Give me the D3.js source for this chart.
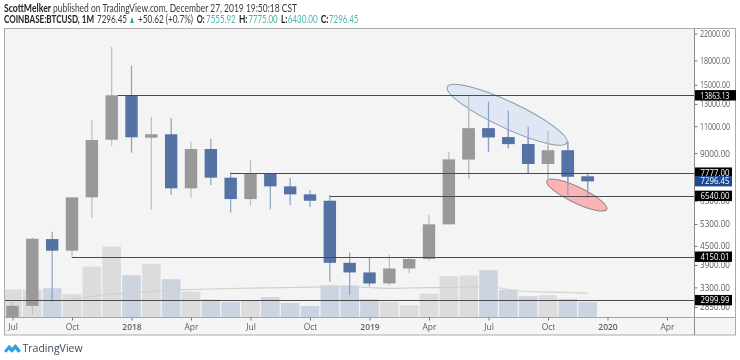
<!DOCTYPE html>
<html><head><meta charset="utf-8">
<script src="https://cdn.jsdelivr.net/npm/d3@7/dist/d3.min.js"></script>
<style>html,body{margin:0;padding:0;background:#fff}svg{display:block;filter:blur(0.35px)}text{font-family:"Open Sans",sans-serif}</style>
</head><body><svg id="c" width="740" height="360"></svg>
<script>
const months = ["Jul","Aug","Sep","Oct","Nov","Dec","Jan","Feb","Mar","Apr","May","Jun","Jul","Aug","Sep","Oct","Nov","Dec","Jan","Feb","Mar","Apr","May","Jun","Jul","Aug","Sep","Oct","Nov","Dec"];
const open  = [2492,2875,4735,4340,6468,9947,13863,10100,10360,6917,9280,7490,6385,7740,7020,6615,6305,3965,3690,3398,3800,4080,5285,8590,10830,10130,9630,8300,9180,7555.92];
const high  = [2965,4800,5000,6470,11520,19891,17290,11800,11700,9800,10000,7800,8550,7740,7470,6830,6580,4285,4130,4200,4135,5667,9090,13863,13210,12350,10970,10620,9800,7775];
const low   = [2400,2700,2965,4115,5550,9510,9025,5895,6580,6450,7090,5770,6075,5915,6110,6020,3440,3120,3330,3340,3672,4040,5290,7430,9070,9340,7740,7300,6580,6430];
const close = [2875,4745,4340,6465,9925,13863,10130,10360,6917,9280,7490,6385,7740,7020,6615,6305,3965,3690,3398,3800,4080,5285,8590,10830,10130,9630,8300,9180,7555.92,7296.45];
const volume = [280,280,293,233,510,710,423,536,383,260,180,156,166,203,146,116,323,320,183,156,123,240,413,420,473,276,213,223,186,156];
const volumeMA = [null,null,null,185,210,235,245,260,275,280,285,290,294,297,300,304,305,305,300,292,295,298,300,305,308,280,260,255,250,242];
const yTicks = [22000,18000,15000,13000,11000,9000,5300,4500,3900,3300,2850,6300];
const priceLabels = [[13863.13,"#000"],[7777,"#000"],[7296.45,"#1f4a93"],[6540,"#000"],[4150.01,"#000"],[2999.99,"#000"]];
const levels = [[5,13863.13],[11,7777],[16,6540],[3,4150.01],[-1,2999.99]];
const xTickIdx = [0,3,6,9,12,15,18,21,24,27,30,33];
const xTickLabels = ["Jul","Oct","2018","Apr","Jul","Oct","2019","Apr","Jul","Oct","2020","Apr"];
const boldLabels = ["2018","2019","2020"];
// ellipses: end points of the long axis as [month index, price], plus minor/major ratio
const ellipses = [
  {a:[21.93,14780],b:[27.95,9727],r:0.2,fill:"#dfe7f4",stroke:"#8f99a8"},
  {a:[26.94,7323],b:[29.96,5915],r:0.24,fill:"#f9b4b6",stroke:"#a07f84"}
];
// header fragments: text, x, width, bold?, colour
const headerLine1 = [["ScottMelker",4,47,1,"#222"],["published on TradingView.com, December 27, 2019 19:50:18 CST",53,244,0,"#3a3a3a"]];
const headerLine2 = [["COINBASE:BTCUSD, 1M",4,90,1,"#222"],["7296.45",97,30,0,"#3a3a3a"],["▲",129,6,0,"#26a69a"],["+50.62 (+0.7%)",138,55,0,"#3a3a3a"],
  ["O:",196.7,8,1,"#222"],["7555.92",206,29.7,0,"#4db6ac"],["H:",239,8.5,1,"#222"],["7775.00",248.3,29.4,0,"#4db6ac"],["L:",281,6.2,1,"#222"],["6430.00",287.7,30,0,"#4db6ac"],["C:",320.7,7.8,1,"#222"],["7296.45",329,29.3,0,"#4db6ac"]];

const L=4.5,T=28.5,R=735.5,B=335,AX=694.5,XB=317.5;
const svg=d3.select("#c");
const x=d3.scaleLinear().domain([0,33]).range([12.5,667]);
const y=d3.scaleLog().domain([22000,2850]).range([33.5,307]);
const barStep=x(1)-x(0);
const vol=d3.scaleLinear().domain([0,1000]).range([XB,XB-100]);
const up="#999999",down="#5472a4",upWick="#bdbdbd",downWick="#8ba0c4";

svg.append("rect").attr("x",L).attr("y",T).attr("width",AX-L).attr("height",XB-T).attr("fill","#f4f4f4");
svg.append("rect").attr("x",L).attr("y",XB).attr("width",R-L).attr("height",B-XB).attr("fill","#f5f5f5");
svg.append("rect").attr("x",AX).attr("y",T).attr("width",R-AX).attr("height",XB-T).attr("fill","#fff");

const defs=svg.append("defs");
defs.append("clipPath").attr("id","pl").append("rect").attr("x",L).attr("y",T).attr("width",AX-L).attr("height",XB-T);
const g=svg.append("g").attr("clip-path","url(#pl)");

g.selectAll("rect.v").data(volume).join("rect").attr("class","v")
 .attr("x",(d,i)=>x(i)-barStep/2+0.6).attr("width",barStep-1.2)
 .attr("y",d=>vol(d)).attr("height",d=>XB-vol(d))
 .attr("fill",(d,i)=>close[i]>=open[i]?"#dcdcdc":"#ccd4e2");
g.append("path").datum(volumeMA.map((d,i)=>[i,d]).filter(d=>d[1]!=null))
 .attr("fill","none").attr("stroke","#d0d0d0").attr("stroke-width",1.2)
 .attr("d",d3.line().x(d=>x(d[0])).y(d=>vol(d[1])).curve(d3.curveMonotoneX));

function candles(cls,idx){
 g.selectAll("line."+cls).data(idx).join("line").attr("class",cls)
  .attr("x1",i=>x(i)).attr("x2",i=>x(i)).attr("y1",i=>y(high[i])).attr("y2",i=>y(low[i]))
  .attr("stroke",i=>close[i]>=open[i]?upWick:downWick).attr("stroke-width",1.2);
 g.selectAll("rect."+cls).data(idx).join("rect").attr("class",cls)
  .attr("x",i=>x(i)-6.2).attr("width",12.4)
  .attr("y",i=>y(Math.max(open[i],close[i]))).attr("height",i=>Math.max(1,Math.abs(y(open[i])-y(close[i]))))
  .attr("fill",i=>close[i]>=open[i]?up:down);
}
candles("c1",d3.range(months.length));
ellipses.forEach(e=>{
  const ax=x(e.a[0]),ay=y(e.a[1]),bx=x(e.b[0]),by=y(e.b[1]);
  const rx=Math.hypot(bx-ax,by-ay)/2;
  const ang=Math.atan2(by-ay,bx-ax)*180/Math.PI;
  g.append("ellipse").attr("cx",(ax+bx)/2).attr("cy",(ay+by)/2).attr("rx",rx).attr("ry",rx*e.r)
   .attr("transform",`rotate(${ang} ${(ax+bx)/2} ${(ay+by)/2})`)
   .attr("fill",e.fill).attr("stroke",e.stroke).attr("stroke-width",1);
});
candles("c2",d3.range(23,months.length));

svg.selectAll("line.l").data(levels).join("line").attr("class","l")
 .attr("x1",d=>d[0]<0?L:x(d[0])+(d[0]==5?6:0)).attr("x2",AX)
 .attr("y1",d=>Math.round(y(d[1]))+.5).attr("y2",d=>Math.round(y(d[1]))+.5)
 .attr("stroke","#4a4a4a").attr("stroke-width",1.1);

svg.append("rect").attr("x",L).attr("y",T).attr("width",R-L).attr("height",B-T).attr("fill","none").attr("stroke","#ababab").attr("stroke-width",1);
svg.append("line").attr("x1",AX).attr("x2",AX).attr("y1",T).attr("y2",B).attr("stroke","#8a8a8a");
svg.append("line").attr("x1",L).attr("x2",R).attr("y1",XB).attr("y2",XB).attr("stroke","#a5a5a5");

const yAxis=svg.append("g").attr("transform",`translate(${AX},0)`)
 .call(d3.axisRight(y).tickValues(yTicks).tickSize(3).tickPadding(2.5).tickFormat(d=>d3.format(".2f")(d)));
yAxis.select(".domain").remove();
yAxis.selectAll("text").attr("fill","#5a5a5a").style("font-size","9px")
 .attr("textLength",30).attr("lengthAdjust","spacingAndGlyphs");
yAxis.selectAll("line").attr("stroke","#777");

const xAxis=svg.append("g").attr("transform",`translate(0,${XB})`)
 .call(d3.axisBottom(x).tickValues(xTickIdx).tickSize(3).tickPadding(3).tickFormat((d,i)=>xTickLabels[i]));
xAxis.select(".domain").remove();
xAxis.selectAll("text").attr("fill","#5f5f5f").style("font-size","8.5px")
 .style("font-weight",function(){return boldLabels.includes(this.textContent)?600:400;});
xAxis.selectAll("line").attr("stroke","#777");

const pl=svg.selectAll("g.pl").data(priceLabels).join("g").attr("class","pl")
 .attr("transform",d=>`translate(${AX+.5},${y(d[0])})`);
pl.append("rect").attr("y",-5.2).attr("height",10.4).attr("width",(d,i)=>i==0?41:37).attr("fill",d=>d[1]);
pl.append("text").attr("x",5.5).attr("y",3.2).attr("fill","#fff").style("font-size","9px")
 .attr("textLength",29).attr("lengthAdjust","spacingAndGlyphs")
 .text(d=>d3.format(".2f")(d[0]));

function header(line,baseline){
  svg.selectAll(null).data(line).join("text")
   .attr("x",d=>d[1]).attr("y",baseline).attr("textLength",d=>d[2]).attr("lengthAdjust","spacingAndGlyphs")
   .style("font-family","Lato,sans-serif").style("font-size","10.5px")
   .style("font-weight",d=>d[3]?700:400).attr("fill",d=>d[4]).text(d=>d[0]);
}
header(headerLine1,11.5);
header(headerLine2,23);

svg.append("path").attr("d","M4 351 L9 344.8 L12 347.8 L15.5 344 L21 351 L18 352.8 L15.3 349.3 L12 352.8 L8.6 349.8 L6.5 352.8 Z").attr("fill","#2f9fe8");
svg.append("text").attr("x",22.5).attr("y",351.5).style("font-size","10.5px").attr("fill","#3c4a5a").text("TradingView");
</script></body></html>
